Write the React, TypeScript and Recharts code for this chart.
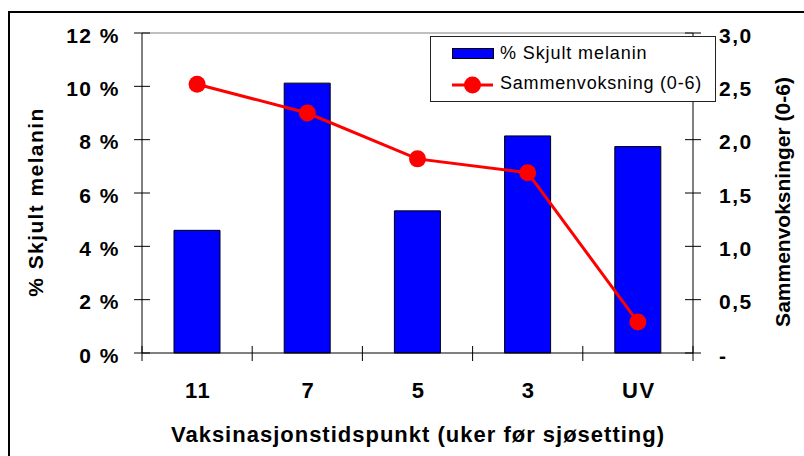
import React from 'react';
import { ComposedChart, Bar, Line, XAxis, YAxis, Legend, ReferenceLine } from 'recharts';

const categories = ['11', '7', '5', '3', 'UV'];
const skjultMelanin = [4.6, 10.12, 5.33, 8.14, 7.74];
const sammenvoksning = [2.52, 2.25, 1.82, 1.69, 0.29];
const leftTicks = [0, 2, 4, 6, 8, 10, 12];
const rightTicks = [0, 0.5, 1, 1.5, 2, 2.5, 3];

const data = categories.map((c, i) => ({ cat: c, skjult: skjultMelanin[i], sammen: sammenvoksning[i] }));

const FONT = '"Liberation Sans", Arial, Helvetica, sans-serif';
const W = 804;
const H = 456;
const PLOT_LEFT = 142;
const PLOT_RIGHT = 693;
const PLOT_TOP = 33;
const PLOT_BOTTOM = 353;
const BAND = (PLOT_RIGHT - PLOT_LEFT) / categories.length;

const LeftTick = (props: any) => {
  const { x, y, payload } = props;
  return (
    <g>
      <line x1={x - 8} x2={x + 8} y1={y} y2={y} stroke="#000" strokeWidth={1} />
      <text x={x - 22} y={y + 9.5} textAnchor="end" fontFamily={FONT} fontWeight="bold" fontSize={21} letterSpacing={1.5} fill="#000">
        {`${payload.value} %`}
      </text>
    </g>
  );
};

const RightTick = (props: any) => {
  const { x, y, payload } = props;
  const v = Number(payload.value);
  const label = v === 0 ? '-' : v.toFixed(1).replace('.', ',');
  return (
    <g>
      <line x1={x - 8} x2={x + 8} y1={y} y2={y} stroke="#000" strokeWidth={1} />
      <text x={x + 26} y={y + 9.5} textAnchor="start" fontFamily={FONT} fontWeight="bold" fontSize={21} letterSpacing={1.5} fill="#000">
        {label}
      </text>
    </g>
  );
};

const BottomTick = (props: any) => {
  const { x, y, payload, index } = props;
  const half = payload && payload.offset ? payload.offset : BAND / 2;
  return (
    <g>
      <line x1={x - half} x2={x - half} y1={y - 7} y2={y + 8} stroke="#000" strokeWidth={1} />
      {index === categories.length - 1 ? (
        <line x1={x + half} x2={x + half} y1={y - 7} y2={y + 8} stroke="#000" strokeWidth={1} />
      ) : null}
      <text x={x + 1} y={y + 45} textAnchor="middle" fontFamily={FONT} fontWeight="bold" fontSize={22} letterSpacing={1.5} fill="#000">
        {payload.value}
      </text>
    </g>
  );
};

const Title = (props: any) => {
  const { tx, ty, rot, text, size, spacing } = props;
  return (
    <text
      x={tx}
      y={ty}
      transform={rot ? `rotate(${rot}, ${tx}, ${ty})` : undefined}
      textAnchor="middle"
      fontFamily={FONT}
      fontWeight="bold"
      fontSize={size}
      letterSpacing={spacing}
      fill="#000"
    >
      {text}
    </text>
  );
};

const LegendContent = () => (
  <svg width={286} height={66} style={{ display: 'block' }}>
    <rect x={0.5} y={0.5} width={285} height={65} fill="#fff" stroke="#222" strokeWidth={1} />
    <rect x={22.5} y={12.5} width={41} height={10} fill="#0000FF" stroke="#000" strokeWidth={1} />
    <text x={70} y={22.5} fontFamily={FONT} fontSize={18} letterSpacing={0.9} fill="#000">% Skjult melanin</text>
    <line x1={22} x2={63} y1={49} y2={49} stroke="#FF0000" strokeWidth={3} />
    <circle cx={42.5} cy={49} r={8.5} fill="#FF0000" />
    <text x={70} y={52.5} fontFamily={FONT} fontSize={18} letterSpacing={0.8} fill="#000">Sammenvoksning (0-6)</text>
  </svg>
);

export default function App() {
  return (
    <div style={{ position: 'absolute', left: 0, top: 0, width: W, height: H, overflow: 'hidden', background: '#fff' }}>
      <div
        style={{
          position: 'absolute',
          left: 8,
          top: 11,
          width: 900,
          height: 600,
          border: '2px solid #000',
          boxSizing: 'border-box',
        }}
      />
      <div style={{ position: 'absolute', left: 0, top: 0 }}>
        <ComposedChart
          width={W}
          height={H}
          data={data}
          margin={{ top: PLOT_TOP, right: 0, bottom: 0, left: 0 }}
        >
          <XAxis
            dataKey="cat"
            height={H - PLOT_BOTTOM}
            tickLine={false}
            tickSize={0}
            tickMargin={0}
            interval={0}
            axisLine={{ stroke: '#000', strokeWidth: 1 }}
            tick={<BottomTick />}
            label={<Title tx={418} ty={442} text="Vaksinasjonstidspunkt (uker før sjøsetting)" size={22} spacing={1.0} />}
          />
          <YAxis
            yAxisId="left"
            orientation="left"
            width={PLOT_LEFT}
            domain={[0, 12]}
            ticks={leftTicks}
            interval={0}
            tickLine={false}
            tickSize={0}
            tickMargin={0}
            axisLine={{ stroke: '#000', strokeWidth: 1 }}
            tick={<LeftTick />}
            label={<Title tx={43} ty={202} rot={-90} text="% Skjult melanin" size={21} spacing={1.4} />}
          />
          <YAxis
            yAxisId="right"
            orientation="right"
            width={W - PLOT_RIGHT}
            domain={[0, 3]}
            ticks={rightTicks}
            interval={0}
            tickLine={false}
            tickSize={0}
            tickMargin={0}
            axisLine={{ stroke: '#000', strokeWidth: 1 }}
            tick={<RightTick />}
            label={<Title tx={790} ty={202} rot={-90} text="Sammenvoksninger (0-6)" size={21} spacing={0} />}
          />
          <ReferenceLine yAxisId="left" y={12} stroke="#808080" strokeWidth={1} ifOverflow="extendDomain" />
          <Bar
            yAxisId="left"
            dataKey="skjult"
            name="% Skjult melanin"
            fill="#0000FF"
            stroke="#000"
            strokeWidth={1}
            barSize={46}
            isAnimationActive={false}
          />
          <Line
            yAxisId="right"
            dataKey="sammen"
            name="Sammenvoksning (0-6)"
            stroke="#FF0000"
            strokeWidth={3}
            dot={{ r: 8.5, fill: '#FF0000', stroke: 'none' }}
            activeDot={false}
            isAnimationActive={false}
          />
          <Legend
            layout="horizontal"
            verticalAlign="middle"
            align="center"
            content={<LegendContent />}
            wrapperStyle={{ position: 'absolute', left: 430, top: 36, width: 286, height: 66, margin: 0, padding: 0 }}
          />
        </ComposedChart>
      </div>
    </div>
  );
}
